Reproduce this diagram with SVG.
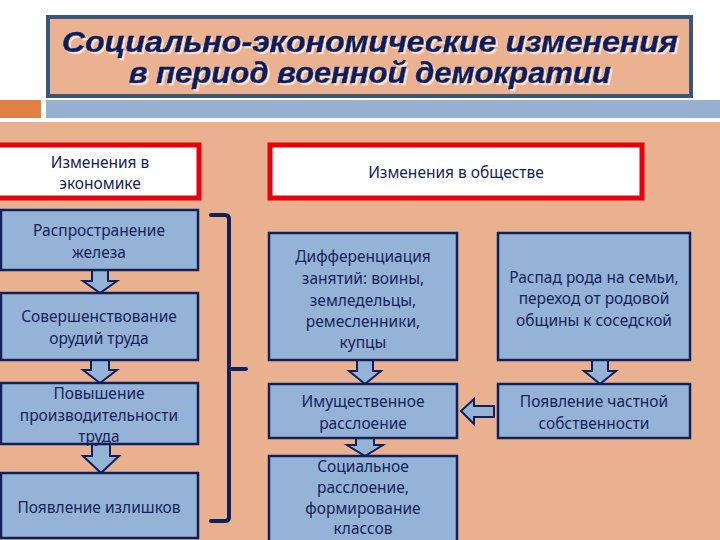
<svg xmlns="http://www.w3.org/2000/svg" width="720" height="540" viewBox="0 0 720 540">
<defs>
<filter id="sh" x="-5%" y="-20%" width="110%" height="140%">
<feDropShadow dx="2" dy="2" stdDeviation="0.6" flood-color="#F6E6DA" flood-opacity="1"/>
</filter>
</defs>
<style>
.bg{fill:#E9B190}
.box{fill:#95B3D7;stroke:#10205A;stroke-width:2.5}
.hdr{fill:#FFFFFF;stroke:#E8000B;stroke-width:5}
.t{font-family:"Noto Sans","Open Sans",sans-serif;font-size:15.5px;fill:#17235A;text-anchor:middle;dominant-baseline:central}
.ttl{font-family:"Liberation Sans",Arial,sans-serif;font-weight:bold;font-style:italic;font-size:29px;fill:#0F1E5C;text-anchor:middle;stroke:#0F1E5C;stroke-width:0.6}
.arr{fill:#95B3D7;stroke:#10205A;stroke-width:2;stroke-linejoin:miter}
.br{fill:none;stroke:#10205A;stroke-width:4;stroke-linecap:round;stroke-linejoin:round}
</style>
<rect x="0" y="0" width="720" height="540" fill="#FFFFFF"/>
<rect class="bg" x="0" y="122" width="720" height="418"/>
<g id="title">
<rect x="48" y="17" width="643" height="79" fill="#EBB291" stroke="#3B5775" stroke-width="4"/>
<g filter="url(#sh)">
<text class="ttl" x="370" y="52" textLength="616" lengthAdjust="spacingAndGlyphs">Социально-экономические изменения</text>
<text class="ttl" x="370" y="83" textLength="482" lengthAdjust="spacingAndGlyphs">в период военной демократии</text>
</g>
</g>
<rect x="0" y="100" width="41" height="18" fill="#E37F43"/>
<rect x="46" y="100" width="674" height="18" fill="#95B1CF"/>

<g id="connectors">
<path class="br" d="M211,215 H225 Q229,215 229,219 V517 Q229,521 225,521 H211 M229,369 H246"/>
<path class="arr" d="M92,270 V281 H83 L100,293 L117,281 H108 V270 Z"/>
<path class="arr" d="M91,360 V370 H83 L100,383 L117,370 H109 V360 Z"/>
<path class="arr" d="M92,444 V456 H83 L101,473 L119,456 H110 V444 Z"/>
<path class="arr" d="M357,360 V371 H349 L365,384 L381,371 H373 V360 Z"/>
<path class="arr" d="M592,360 V371 H584 L600,384 L616,371 H608 V360 Z"/>
<path class="arr" d="M356,438 V445 H347 L365,456 L383,445 H374 V438 Z"/>
<path class="arr" d="M494,406 H474 V399 L461,411 L474,424 V417 H494 Z"/>
</g>

<g id="hdr-econ">
<rect class="hdr" x="-3" y="145" width="202" height="53"/>
<text class="t" x="100" y="162">Изменения в</text>
<text class="t" x="100" y="183">экономике</text>
</g>
<g id="hdr-soc">
<rect class="hdr" x="270" y="145" width="372" height="53"/>
<text class="t" x="456" y="172">Изменения в обществе</text>
</g>

<g id="e1">
<rect class="box" x="1" y="210" width="197" height="60"/>
<text class="t" x="99" y="230">Распространение</text>
<text class="t" x="99" y="252">железа</text>
</g>
<g id="e2">
<rect class="box" x="1" y="293" width="197" height="67"/>
<text class="t" x="99" y="316">Совершенствование</text>
<text class="t" x="99" y="338">орудий труда</text>
</g>
<g id="e3">
<rect class="box" x="1" y="383" width="197" height="61"/>
<text class="t" x="99" y="393">Повышение</text>
<text class="t" x="99" y="415">производительности</text>
<text class="t" x="99" y="436">труда</text>
</g>
<g id="e4">
<rect class="box" x="1" y="473" width="197" height="65"/>
<text class="t" x="99" y="507">Появление излишков</text>
</g>

<g id="s1">
<rect class="box" x="269" y="233" width="188" height="127"/>
<text class="t" x="363" y="256">Дифференциация</text>
<text class="t" x="363" y="278">занятий: воины,</text>
<text class="t" x="363" y="300">земледельцы,</text>
<text class="t" x="363" y="321">ремесленники,</text>
<text class="t" x="363" y="342">купцы</text>
</g>
<g id="s2">
<rect class="box" x="498" y="233" width="192" height="127"/>
<text class="t" x="594" y="277">Распад рода на семьи,</text>
<text class="t" x="594" y="298">переход от родовой</text>
<text class="t" x="594" y="320">общины к соседской</text>
</g>
<g id="s3">
<rect class="box" x="269" y="384" width="188" height="54"/>
<text class="t" x="363" y="401">Имущественное</text>
<text class="t" x="363" y="423">расслоение</text>
</g>
<g id="s4">
<rect class="box" x="498" y="384" width="192" height="54"/>
<text class="t" x="594" y="401">Появление частной</text>
<text class="t" x="594" y="423">собственности</text>
</g>
<g id="s5">
<rect class="box" x="269" y="456" width="188" height="90"/>
<text class="t" x="363" y="466">Социальное</text>
<text class="t" x="363" y="487">расслоение,</text>
<text class="t" x="363" y="508">формирование</text>
<text class="t" x="363" y="528">классов</text>
</g>
</svg>
